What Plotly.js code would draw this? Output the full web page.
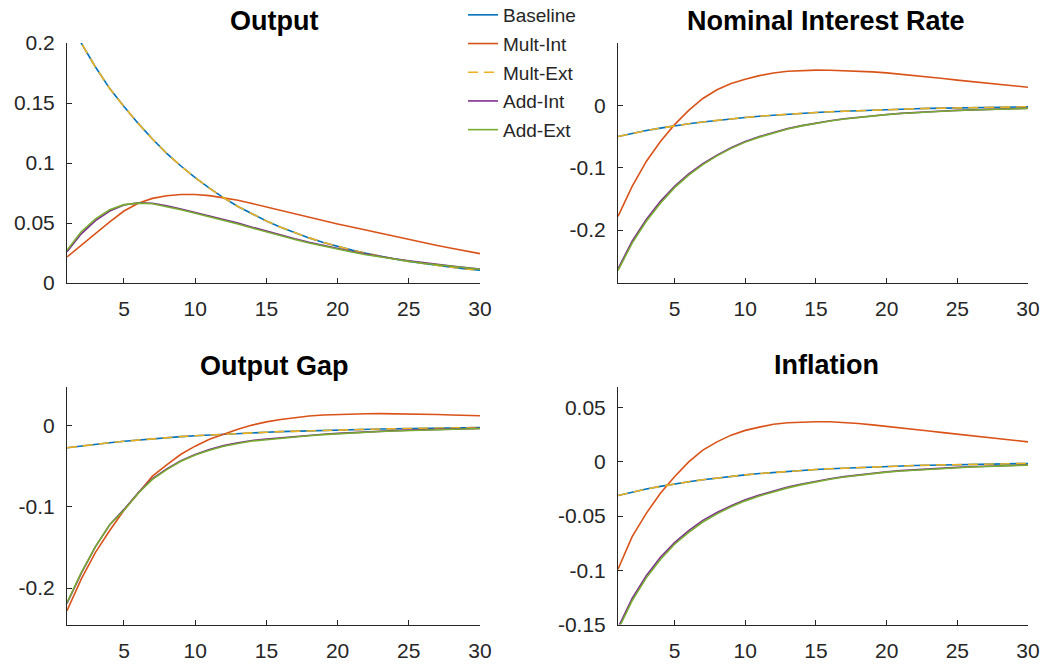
<!DOCTYPE html>
<html>
<head>
<meta charset="utf-8">
<script src="https://cdn.plot.ly/plotly-3.0.1.min.js"></script>
<style>html,body{margin:0;padding:0;background:#fff;}#chart{width:1055px;height:669px;}</style>
</head>
<body>
<div id="chart"></div>
<script>
// ---------- data ----------
const periods = [1,2,3,4,5,6,7,8,9,10,11,12,13,14,15,16,17,18,19,20,21,22,23,24,25,26,27,28,29,30];
const seriesNames = ["Baseline","Mult-Int","Mult-Ext","Add-Int","Add-Ext"];
const panelTitles = ["Output","Nominal Interest Rate","Output Gap","Inflation"];
const xTickVals = [5,10,15,20,25,30];
const xTickText = ["5","10","15","20","25","30"];

// Output
const outputBaseline = [0.222,0.200,0.180,0.162,0.147,0.133,0.120,0.108,0.0975,0.0878,0.0790,0.0710,0.0638,0.0574,0.0516,0.0465,0.0418,0.0376,0.0338,0.0305,0.0274,0.0247,0.0222,0.0200,0.0180,0.0162,0.0146,0.0131,0.0118,0.0106];
const outputMultInt  = [0.0217,0.0315,0.0413,0.0510,0.0600,0.0665,0.0705,0.0727,0.0737,0.0737,0.0728,0.0712,0.0690,0.0662,0.0633,0.0604,0.0575,0.0547,0.0519,0.0492,0.0466,0.0440,0.0415,0.0390,0.0360,0.0336,0.0313,0.0290,0.0267,0.0245];
const outputMultExt  = [0.222,0.200,0.180,0.162,0.147,0.133,0.120,0.108,0.0975,0.0878,0.0790,0.0710,0.0638,0.0574,0.0516,0.0465,0.0418,0.0376,0.0338,0.0305,0.0274,0.0247,0.0222,0.0200,0.0180,0.0162,0.0146,0.0131,0.0118,0.0106];
const outputAddInt   = [0.0260,0.0410,0.0520,0.0600,0.0650,0.0668,0.0664,0.0644,0.0617,0.0589,0.0561,0.0531,0.0499,0.0465,0.0432,0.0400,0.0369,0.0340,0.0313,0.0287,0.0263,0.0241,0.0220,0.0202,0.0185,0.0169,0.0154,0.0141,0.0128,0.0117];
const outputAddExt   = [0.0273,0.0427,0.0535,0.0610,0.0653,0.0666,0.0660,0.0638,0.0610,0.0582,0.0554,0.0524,0.0492,0.0458,0.0425,0.0393,0.0363,0.0334,0.0307,0.0282,0.0258,0.0236,0.0216,0.0198,0.0181,0.0165,0.0151,0.0138,0.0125,0.0114];

// Nominal interest rate
const rateBaseline = [-0.050,-0.045,-0.0405,-0.0365,-0.0328,-0.0295,-0.0266,-0.0239,-0.0215,-0.0194,-0.0174,-0.0157,-0.0141,-0.0127,-0.0114,-0.0103,-0.0093,-0.0083,-0.0075,-0.0068,-0.0061,-0.0055,-0.0049,-0.0044,-0.0040,-0.0036,-0.0032,-0.0029,-0.0026,-0.0024];
const rateMultInt  = [-0.178,-0.130,-0.090,-0.058,-0.031,-0.008,0.011,0.025,0.035,0.042,0.0477,0.052,0.0546,0.056,0.0565,0.0563,0.0558,0.055,0.0537,0.052,0.050,0.0478,0.0455,0.043,0.0405,0.038,0.0357,0.0334,0.0312,0.029];
const rateMultExt  = [-0.050,-0.045,-0.0405,-0.0365,-0.0328,-0.0295,-0.0266,-0.0239,-0.0215,-0.0194,-0.0174,-0.0157,-0.0141,-0.0127,-0.0114,-0.0103,-0.0093,-0.0083,-0.0075,-0.0068,-0.0061,-0.0055,-0.0049,-0.0044,-0.0040,-0.0036,-0.0032,-0.0029,-0.0026,-0.0024];
const rateAddInt   = [-0.262,-0.218,-0.183,-0.154,-0.130,-0.110,-0.0935,-0.0798,-0.068,-0.058,-0.050,-0.0433,-0.0374,-0.0325,-0.0283,-0.0247,-0.0216,-0.019,-0.0166,-0.0146,-0.0129,-0.0114,-0.0101,-0.009,-0.0081,-0.0073,-0.0065,-0.0058,-0.0052,-0.0047];
const rateAddExt   = [-0.265,-0.221,-0.186,-0.157,-0.132,-0.112,-0.095,-0.081,-0.069,-0.059,-0.051,-0.044,-0.038,-0.033,-0.0288,-0.0252,-0.022,-0.0193,-0.0169,-0.0149,-0.0132,-0.0117,-0.0104,-0.0093,-0.0083,-0.0075,-0.0067,-0.006,-0.0054,-0.0049];

// Output gap
const gapBaseline = [-0.027,-0.0247,-0.0226,-0.0207,-0.0189,-0.0173,-0.0158,-0.0145,-0.0132,-0.0121,-0.0111,-0.0101,-0.0093,-0.0085,-0.0078,-0.0071,-0.0065,-0.0059,-0.0054,-0.005,-0.0045,-0.0042,-0.0038,-0.0035,-0.0032,-0.0029,-0.0027,-0.0024,-0.0022,-0.002];
const gapMultInt  = [-0.228,-0.189,-0.156,-0.129,-0.104,-0.083,-0.062,-0.048,-0.035,-0.025,-0.0166,-0.0104,-0.004,0.001,0.005,0.008,0.0105,0.0122,0.0134,0.0142,0.0147,0.015,0.0151,0.015,0.0148,0.0144,0.014,0.0135,0.013,0.0125];
const gapMultExt  = [-0.027,-0.0247,-0.0226,-0.0207,-0.0189,-0.0173,-0.0158,-0.0145,-0.0132,-0.0121,-0.0111,-0.0101,-0.0093,-0.0085,-0.0078,-0.0071,-0.0065,-0.0059,-0.0054,-0.005,-0.0045,-0.0042,-0.0038,-0.0035,-0.0032,-0.0029,-0.0027,-0.0024,-0.0022,-0.002];
const gapAddInt   = [-0.219,-0.182,-0.149,-0.122,-0.103,-0.0825,-0.065,-0.053,-0.0428,-0.0352,-0.0292,-0.0243,-0.0208,-0.0179,-0.0162,-0.0145,-0.013,-0.0116,-0.0103,-0.0092,-0.0082,-0.0073,-0.0065,-0.0058,-0.0052,-0.0047,-0.0042,-0.0038,-0.0034,-0.003];
const gapAddExt   = [-0.218,-0.181,-0.149,-0.122,-0.104,-0.083,-0.066,-0.054,-0.0436,-0.036,-0.030,-0.025,-0.0216,-0.0187,-0.017,-0.0152,-0.0136,-0.0121,-0.0108,-0.0096,-0.0086,-0.0077,-0.0069,-0.0062,-0.0056,-0.005,-0.0045,-0.004,-0.0036,-0.0032];

// Inflation
const inflBaseline = [-0.031,-0.0279,-0.0251,-0.0226,-0.0203,-0.0183,-0.0165,-0.0148,-0.0133,-0.012,-0.0108,-0.0097,-0.0088,-0.0079,-0.0071,-0.0064,-0.0058,-0.0052,-0.0047,-0.0042,-0.0038,-0.0034,-0.0031,-0.0028,-0.0025,-0.0022,-0.002,-0.0018,-0.0016,-0.0015];
const inflMultInt  = [-0.099,-0.069,-0.0475,-0.029,-0.0138,0.000,0.0108,0.0184,0.0246,0.029,0.032,0.0347,0.036,0.0366,0.0370,0.0369,0.0363,0.0354,0.0341,0.0328,0.0314,0.0298,0.0284,0.0269,0.0255,0.0241,0.0226,0.0212,0.0198,0.0184];
const inflMultExt  = [-0.031,-0.0279,-0.0251,-0.0226,-0.0203,-0.0183,-0.0165,-0.0148,-0.0133,-0.012,-0.0108,-0.0097,-0.0088,-0.0079,-0.0071,-0.0064,-0.0058,-0.0052,-0.0047,-0.0042,-0.0038,-0.0034,-0.0031,-0.0028,-0.0025,-0.0022,-0.002,-0.0018,-0.0016,-0.0015];
const inflAddInt   = [-0.153,-0.126,-0.105,-0.088,-0.0745,-0.0635,-0.054,-0.0468,-0.0405,-0.035,-0.0306,-0.0267,-0.0233,-0.0204,-0.0178,-0.0156,-0.0136,-0.012,-0.0105,-0.0092,-0.0081,-0.0072,-0.0064,-0.0057,-0.0051,-0.0045,-0.004,-0.0036,-0.0032,-0.0028];
const inflAddExt   = [-0.155,-0.128,-0.107,-0.090,-0.076,-0.065,-0.0555,-0.048,-0.0415,-0.036,-0.0315,-0.0275,-0.024,-0.021,-0.0183,-0.016,-0.014,-0.0123,-0.0108,-0.0095,-0.0084,-0.0075,-0.0067,-0.006,-0.0054,-0.0048,-0.0043,-0.0038,-0.0034,-0.003];

// y tick labels per panel
const yTickValsOutput = [0,0.05,0.1,0.15,0.2];
const yTickTextOutput = ["0","0.05","0.1","0.15","0.2"];
const yTickValsRate = [-0.2,-0.1,0];
const yTickTextRate = ["-0.2","-0.1","0"];
const yTickValsGap = [-0.2,-0.1,0];
const yTickTextGap = ["-0.2","-0.1","0"];
const yTickValsInfl = [-0.15,-0.1,-0.05,0,0.05];
const yTickTextInfl = ["-0.15","-0.1","-0.05","0","0.05"];

// ---------- styles ----------
const colors = ["#0072BD","#D95319","#EDB120","#7E2F8E","#77AC30"];
const dashes = ["solid","solid","10px,6px","solid","solid"];
const FONT = "Liberation Sans, Arial, Helvetica, sans-serif";
const AX = "#262626";

const panels = [
  {xa:"x",  ya:"y",  data:[outputBaseline,outputMultInt,outputMultExt,outputAddInt,outputAddExt]},
  {xa:"x2", ya:"y2", data:[rateBaseline,rateMultInt,rateMultExt,rateAddInt,rateAddExt]},
  {xa:"x3", ya:"y3", data:[gapBaseline,gapMultInt,gapMultExt,gapAddInt,gapAddExt]},
  {xa:"x4", ya:"y4", data:[inflBaseline,inflMultInt,inflMultExt,inflAddInt,inflAddExt]}
];

const traces = [];
panels.forEach((p, pi) => {
  p.data.forEach((vals, si) => {
    traces.push({
      type: "scatter", mode: "lines",
      x: periods, y: vals,
      xaxis: p.xa, yaxis: p.ya,
      name: seriesNames[si],
      legendgroup: seriesNames[si],
      showlegend: pi === 0,
      line: {color: colors[si], width: 1.6, dash: dashes[si]},
      hoverinfo: "skip"
    });
  });
});

function xAxis(domain, anchor) {
  return {
    domain: domain, anchor: anchor, range: [1, 30],
    tickmode: "array", tickvals: xTickVals, ticktext: xTickText,
    ticks: "inside", ticklen: 5, tickwidth: 1, tickcolor: AX,
    showline: true, linecolor: AX, linewidth: 1,
    showgrid: false, zeroline: false,
    tickfont: {family: FONT, size: 21, color: AX},
    ticklabelstandoff: 7, fixedrange: true
  };
}
function yAxis(domain, anchor, range, tv, tt) {
  return {
    domain: domain, anchor: anchor, range: range,
    tickmode: "array", tickvals: tv, ticktext: tt,
    ticks: "inside", ticklen: 5, tickwidth: 1, tickcolor: AX,
    showline: true, linecolor: AX, linewidth: 1,
    showgrid: false, zeroline: false,
    tickfont: {family: FONT, size: 21, color: AX},
    ticklabelstandoff: 7, fixedrange: true
  };
}

const W = 1055, H = 669;
const dxL = [67/W, 480/W], dxR = [618/W, 1028/W];
const dyT = [(H-283)/H, (H-43)/H], dyB = [(H-624.5)/H, (H-387)/H];

function title(text, xc, yc) {
  return {text: "<b>" + text + "</b>", xref: "paper", yref: "paper", x: xc/W, y: (H-yc)/H,
          xanchor: "center", yanchor: "middle", showarrow: false,
          font: {family: FONT, size: 27, color: "#000"}};
}

const layout = {
  width: W, height: H,
  margin: {l: 0, r: 0, t: 0, b: 0, autoexpand: false},
  paper_bgcolor: "#fff", plot_bgcolor: "rgba(0,0,0,0)",
  showlegend: true,
  legend: {x: 463/W, y: 1.006, xanchor: "left", yanchor: "top",
           bgcolor: "rgba(255,255,255,0)", borderwidth: 0,
           font: {family: FONT, size: 19, color: AX},
           traceorder: "grouped", tracegroupgap: 1},
  xaxis:  xAxis(dxL, "y"),
  yaxis:  yAxis(dyT, "x",  [0, 0.2], yTickValsOutput, yTickTextOutput),
  xaxis2: xAxis(dxR, "y2"),
  yaxis2: yAxis(dyT, "x2", [-0.285, 0.1], yTickValsRate, yTickTextRate),
  xaxis3: xAxis(dxL, "y3"),
  yaxis3: yAxis(dyB, "x3", [-0.245, 0.048], yTickValsGap, yTickTextGap),
  xaxis4: xAxis(dxR, "y4"),
  yaxis4: yAxis(dyB, "x4", [-0.15, 0.069], yTickValsInfl, yTickTextInfl),
  annotations: [
    title(panelTitles[0], 273.5, 21),
    title(panelTitles[1], 826, 21),
    title(panelTitles[2], 273.5, 366),
    title(panelTitles[3], 826, 365)
  ]
};

Plotly.newPlot("chart", traces, layout, {staticPlot: true, displayModeBar: false});
</script>
</body>
</html>
